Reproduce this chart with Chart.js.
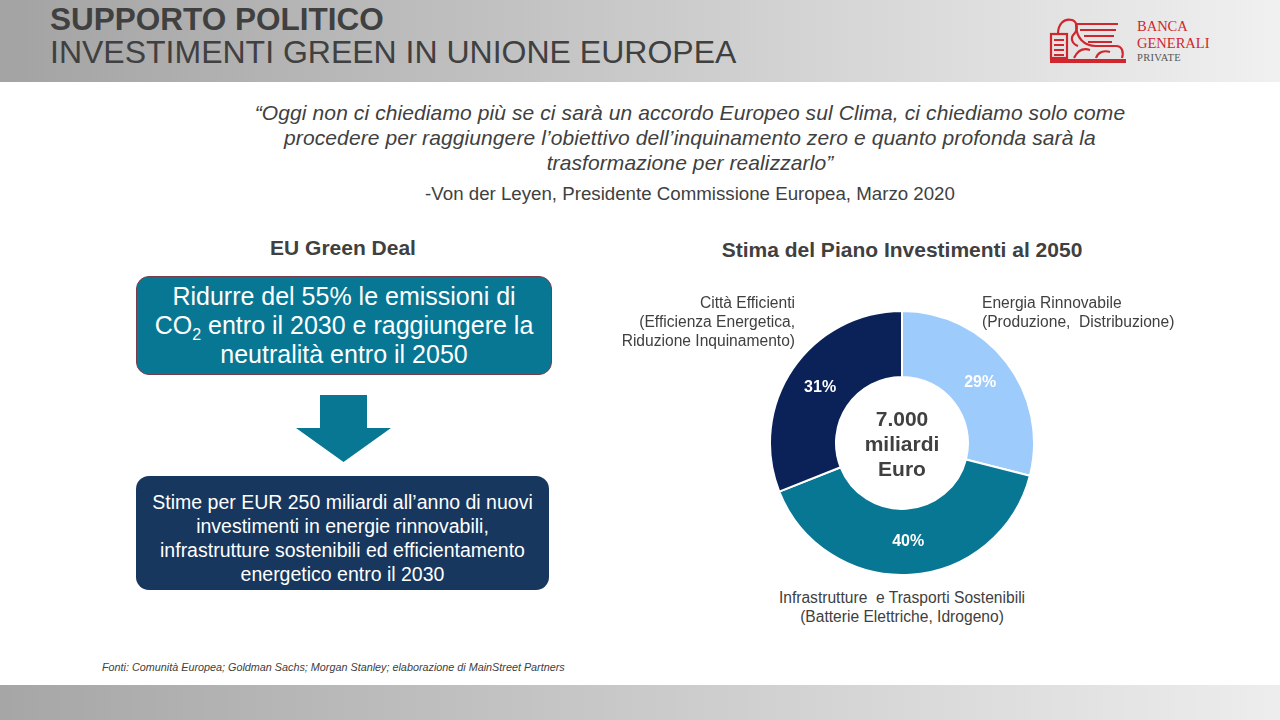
<!DOCTYPE html>
<html>
<head>
<meta charset="utf-8">
<script src="https://cdn.jsdelivr.net/npm/chart.js@4.4.1/dist/chart.umd.min.js"></script>
<style>
  html, body { margin: 0; padding: 0; }
  body { width: 1280px; height: 720px; position: relative; overflow: hidden; background: #fff;
         font-family: "Liberation Sans", Arial, sans-serif; color: #404040; }
  .abs { position: absolute; }
  #header { left: 0; top: 0; width: 1280px; height: 82px; background: linear-gradient(to right, #a3a3a3, #f0f0f0); }
  #footer { left: 0; top: 685px; width: 1280px; height: 35px; background: linear-gradient(to right, #a6a6a6, #ededed); }
  .t1 { left: 50px; top: 1px; font-weight: bold; font-size: 31.5px; color: #404040; }
  .t2 { left: 50px; top: 34px; font-size: 32px; color: #404040; }
  .quote { left: 190px; top: 100px; width: 1000px; text-align: center; font-style: italic; font-size: 21px; line-height: 25px; letter-spacing: 0.1px; }
  .attr { left: 240px; top: 183px; width: 900px; text-align: center; font-size: 18.7px; }
  .h { font-weight: bold; font-size: 21px; text-align: center; }
  .box { border-radius: 13px; color: #fff; text-align: center; box-sizing: border-box; display: flex; align-items: center; justify-content: center; }
  .lbl { font-size: 15.6px; line-height: 19px; color: #404040; }
  .src { left: 102px; top: 661px; font-size: 10.8px; font-style: italic; color: #404040; }
  .logo { left: 1137px; font-family: "Liberation Serif", serif; white-space: nowrap; }
</style>
</head>
<body>
<div id="header" class="abs"></div>
<div id="footer" class="abs"></div>
<div class="abs t1">SUPPORTO POLITICO</div>
<div class="abs t2">INVESTIMENTI GREEN IN UNIONE EUROPEA</div>

<svg class="abs" style="left:1046px;top:14px" width="84" height="52" viewBox="0 0 84 52">
  <g fill="none" stroke="#d0262e" stroke-width="2.2">
    <rect x="5" y="20" width="16" height="24"/>
    <path d="M8 26h10M8 31h10M8 36h10M8 41h10"/>
    <path d="M12 20c0-10 6-16 14-14c6 2 6 10 2 14c-4 4-2 10 4 12"/>
    <path d="M30 10h42M34 16h36M38 22h30M42 28h24"/>
    <path d="M30 10c0 14 8 22 20 22h20c6 0 8 6 6 12"/>
    <path d="M28 44c4-8 10-10 16-8M50 44c2-6 8-8 14-6"/>
  </g>
  <rect x="4" y="45" width="76" height="4" fill="#d0262e"/>
</svg>
<div class="abs logo" style="top:18px;font-size:14.5px;line-height:16px;color:#d0262e">BANCA</div>
<div class="abs logo" style="top:35px;font-size:14.5px;line-height:16px;color:#d0262e">GENERALI</div>
<div class="abs logo" style="top:52px;font-size:10.5px;line-height:12px;color:#555;letter-spacing:0.3px">PRIVATE</div>

<div class="abs quote">“Oggi non ci chiediamo più se ci sarà un accordo Europeo sul Clima, ci chiediamo solo come<br>procedere per raggiungere l’obiettivo dell’inquinamento zero e quanto profonda sarà la<br>trasformazione per realizzarlo”</div>
<div class="abs attr">-Von der Leyen, Presidente Commissione Europea, Marzo 2020</div>

<div class="abs h" style="left:143px;top:236px;width:400px">EU Green Deal</div>
<div class="abs h" style="left:702px;top:238px;width:400px">Stima del Piano Investimenti al 2050</div>

<div class="abs box" style="left:136px;top:276px;width:416px;height:99px;background:#077794;border:1px solid #7a3b4a;font-size:25px;line-height:29px">
  <div>Ridurre del 55% le emissioni di<br>CO<sub style="font-size:16px;line-height:0">2</sub> entro il 2030 e raggiungere la<br>neutralità entro il 2050</div>
</div>

<svg class="abs" style="left:296px;top:394px" width="96" height="70">
  <polygon points="24,1 71,1 71,34 95,34 47.5,68 0,34 24,34" fill="#077794"/>
</svg>

<div class="abs box" style="left:136px;top:476px;width:413px;height:114px;padding-top:10px;background:#17375e;font-size:19.5px;line-height:24px">
  <div>Stime per EUR 250 miliardi all’anno di nuovi<br>investimenti in energie rinnovabili,<br>infrastrutture sostenibili ed efficientamento<br>energetico entro il 2030</div>
</div>

<div class="abs" style="left:769px;top:310px;width:266px;height:266px"><canvas id="donut"></canvas></div>

<div class="abs lbl" id="lblC" style="right:485px;top:293px;text-align:right"></div>
<div class="abs lbl" id="lblE" style="left:982px;top:293px;text-align:left"></div>
<div class="abs lbl" id="lblI" style="left:702px;top:588px;width:400px;text-align:center"></div>

<div class="abs src">Fonti: Comunità Europea; Goldman Sachs; Morgan Stanley; elaborazione di MainStreet Partners</div>

<script>
// dati del grafico
var categorie = [
  ['Energia Rinnovabile', '(Produzione,  Distribuzione)'],
  ['Infrastrutture  e Trasporti Sostenibili', '(Batterie Elettriche, Idrogeno)'],
  ['Città Efficienti', '(Efficienza Energetica,', 'Riduzione Inquinamento)']
];
var quote = [29, 40, 31];
var colori = ['#9dcbfb', '#077794', '#0b2259'];
var centro = ['7.000', 'miliardi', 'Euro'];

document.getElementById('lblE').innerHTML = categorie[0].join('<br>').replace(/  /g, '&nbsp; ');
document.getElementById('lblI').innerHTML = categorie[1].join('<br>').replace(/  /g, '&nbsp; ');
document.getElementById('lblC').innerHTML = categorie[2].join('<br>');

var etichette = {
  id: 'etichette',
  afterDatasetsDraw: function(chart) {
    var ctx = chart.ctx;
    var meta = chart.getDatasetMeta(0);
    ctx.save();
    ctx.fillStyle = '#ffffff';
    ctx.font = 'bold 16px "Liberation Sans", Arial, sans-serif';
    ctx.textAlign = 'center';
    ctx.textBaseline = 'middle';
    meta.data.forEach(function(arc, i) {
      var p = arc.tooltipPosition();
      ctx.fillText(quote[i] + '%', p.x, p.y);
    });
    var cx = (chart.chartArea.left + chart.chartArea.right) / 2;
    var cy = (chart.chartArea.top + chart.chartArea.bottom) / 2;
    ctx.fillStyle = '#404040';
    ctx.font = 'bold 21px "Liberation Sans", Arial, sans-serif';
    centro.forEach(function(t, i) {
      ctx.fillText(t, cx, cy + 2 + (i - 1) * 25);
    });
    ctx.restore();
  }
};

document.addEventListener('DOMContentLoaded', function() {
  var ctx = document.getElementById('donut').getContext('2d');
  new Chart(ctx, {
    type: 'doughnut',
    data: {
      labels: categorie.map(function(c) { return c[0]; }),
      datasets: [{
        data: quote,
        backgroundColor: colori,
        borderColor: '#ffffff',
        borderWidth: 2
      }]
    },
    options: {
      responsive: true,
      maintainAspectRatio: false,
      animation: false,
      cutout: '50%',
      layout: { padding: 0 },
      plugins: { legend: { display: false }, tooltip: { enabled: false } }
    },
    plugins: [etichette]
  });
});
</script>
</body>
</html>
